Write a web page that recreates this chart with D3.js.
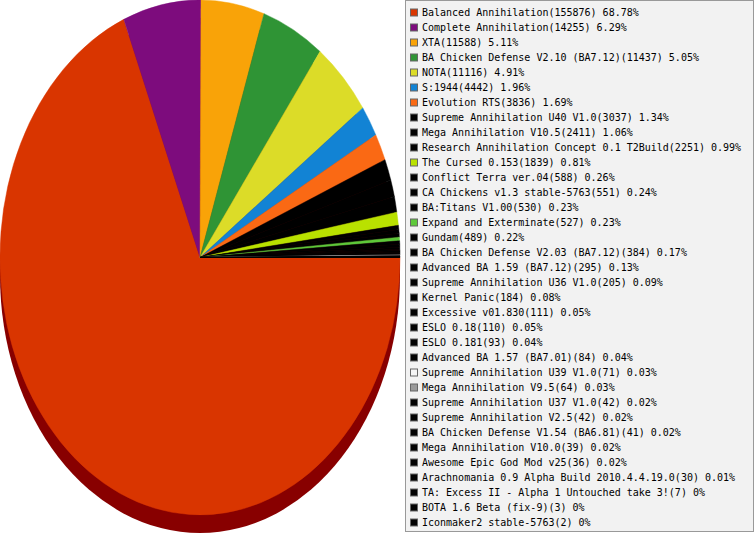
<!DOCTYPE html>
<html>
<head>
<meta charset="utf-8">
<script src="https://cdn.jsdelivr.net/npm/d3@7"></script>
<style>
  body { margin: 0; background: #fff; }
  svg { display: block; }
</style>
</head>
<body>
<script>
// mod names, game counts and the percent labels as printed in the legend
var names = [
    "Balanced Annihilation", "Complete Annihilation", "XTA",
    "BA Chicken Defense V2.10 (BA7.12)", "NOTA", "S:1944", "Evolution RTS",
    "Supreme Annihilation U40 V1.0", "Mega Annihilation V10.5",
    "Research Annihilation Concept 0.1 T2Build", "The Cursed 0.153",
    "Conflict Terra ver.04", "CA Chickens v1.3 stable-5763", "BA:Titans V1.00",
    "Expand and Exterminate", "Gundam", "BA Chicken Defense V2.03 (BA7.12)",
    "Advanced BA 1.59 (BA7.12)", "Supreme Annihilation U36 V1.0", "Kernel Panic",
    "Excessive v01.830", "ESLO 0.18", "ESLO 0.181", "Advanced BA 1.57 (BA7.01)",
    "Supreme Annihilation U39 V1.0", "Mega Annihilation V9.5",
    "Supreme Annihilation U37 V1.0", "Supreme Annihilation V2.5",
    "BA Chicken Defense V1.54 (BA6.81)", "Mega Annihilation V10.0",
    "Awesome Epic God Mod v25", "Arachnomania 0.9 Alpha Build 2010.4.4.19.0",
    "TA: Excess II - Alpha 1 Untouched take 3!", "BOTA 1.6 Beta (fix-9)",
    "Iconmaker2 stable-5763"
];
var counts = [155876, 14255, 11588, 11437, 11116, 4442, 3836, 3037, 2411, 2251,
    1839, 588, 551, 530, 527, 489, 384, 295, 205, 184, 111, 110, 93, 84, 71, 64,
    42, 42, 41, 39, 36, 30, 7, 3, 2];
var pctLabels = ["68.78%", "6.29%", "5.11%", "5.05%", "4.91%", "1.96%", "1.69%",
    "1.34%", "1.06%", "0.99%", "0.81%", "0.26%", "0.24%", "0.23%", "0.23%",
    "0.22%", "0.17%", "0.13%", "0.09%", "0.08%", "0.05%", "0.05%", "0.04%",
    "0.04%", "0.03%", "0.03%", "0.02%", "0.02%", "0.02%", "0.02%", "0.02%",
    "0.01%", "0%", "0%", "0%"];
var colors = ["#d93500", "#7d0c7d", "#f9a308", "#2f9435", "#dcdc28", "#1283d4",
    "#fa6914", "#000000", "#000000", "#000000", "#b9e100", "#000000", "#000000",
    "#000000", "#5ec83a", "#000000", "#000000", "#000000", "#000000", "#000000",
    "#000000", "#000000", "#000000", "#000000", "#f4f4f4", "#9a9a9a", "#000000",
    "#000000", "#000000", "#000000", "#000000", "#000000", "#000000", "#000000",
    "#000000"];

var WIDTH = 755, HEIGHT = 535;

// the pie is an ellipse, plus a dark copy pushed down for the "3d" edge
var PIE = { cx: 200, cy: 257.5, rx: 200, ry: 257.5, depth: 18 };

var data = names.map(function(n, i) {
    return { name: n, count: counts[i], pct: pctLabels[i], color: colors[i] };
});

var svg = d3.select("body").append("svg")
    .attr("width", WIDTH)
    .attr("height", HEIGHT);

// start at 3 o'clock and go clockwise
var pie = d3.pie()
    .sort(null)
    .value(function(d) { return d.count; })
    .startAngle(Math.PI / 2)
    .endAngle(Math.PI / 2 + 2 * Math.PI);

var arc = d3.arc().innerRadius(0).outerRadius(1);

svg.append("ellipse")
    .attr("cx", PIE.cx)
    .attr("cy", PIE.cy + PIE.depth)
    .attr("rx", PIE.rx)
    .attr("ry", PIE.ry)
    .attr("fill", "#880000");

var g = svg.append("g")
    .attr("transform", "translate(" + PIE.cx + "," + PIE.cy + ") scale(" + PIE.rx + "," + PIE.ry + ")");

g.selectAll("path")
    .data(pie(data))
    .enter()
    .append("path")
    .attr("d", arc)
    .attr("fill", function(d) { return d.data.color; })
    .attr("stroke", function(d) { return d.data.color; })
    .attr("stroke-width", 0.002);

// Legend box
var LEG = { x: 405.5, y: 0.5, w: 348, h: 531, row: 15, top: 12.5 };

var leg = svg.append("g");

leg.append("rect")
    .attr("x", LEG.x)
    .attr("y", LEG.y)
    .attr("width", LEG.w)
    .attr("height", LEG.h)
    .attr("fill", "#f2f2f2")
    .attr("stroke", "#999");

var rowY = d3.scaleLinear()
    .domain([0, 1])
    .range([LEG.top, LEG.top + LEG.row]);

var rows = leg.selectAll("g.row")
    .data(data)
    .enter()
    .append("g")
    .attr("class", "row")
    .attr("transform", function(d, i) { return "translate(0," + rowY(i) + ")"; });

rows.append("rect")
    .attr("x", 410.5)
    .attr("y", -3.5)
    .attr("width", 7)
    .attr("height", 7)
    .attr("fill", function(d) { return d.color; })
    .attr("stroke", "#666");

rows.append("text")
    .attr("x", 422)
    .attr("y", 0)
    .attr("dy", "0.36em")
    .attr("font-family", "'DejaVu Sans Mono', monospace")
    .attr("font-size", "10px")
    .attr("fill", "#000")
    .text(function(d) { return d.name + "(" + d.count + ") " + d.pct; });
</script>
</body>
</html>
